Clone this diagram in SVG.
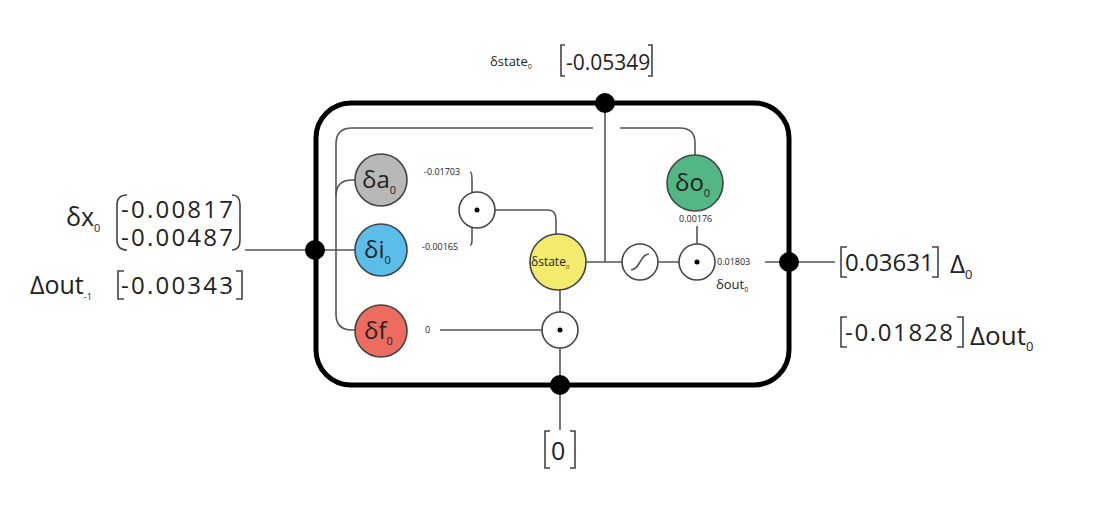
<svg xmlns="http://www.w3.org/2000/svg" width="1104" height="514" viewBox="0 0 1104 514">
<style>
text{font-family:"Open Sans","DejaVu Sans",sans-serif;fill:#222}
.w{fill:none;stroke:#555;stroke-width:1.6}
.b{fill:none;stroke:#444;stroke-width:1.6}
.n{stroke:#444;stroke-width:1.6}
.d{fill:#000}
.m{fill:#fff;stroke:#444;stroke-width:1.6}
.s{font-size:9px}
</style>
<rect width="1104" height="514" fill="#fff"/>
<g id="cell"><rect x="316" y="103" width="473" height="282" rx="35" fill="none" stroke="#000" stroke-width="5"/></g>
<g id="connectors">
<path class="w" d="M593 128 H352 Q336 128 336 144 V314 Q336 330 352 330 H356"/>
<path class="w" d="M620 128 H680 Q695 128 695 143 V155"/>
<path class="w" d="M336 196 Q336 180 352 180 H355"/>
<path class="w" d="M245 250 H355"/>
<path class="w" d="M605 103 V262"/>
<path class="w" d="M470 172 Q472 172 472 180 V192"/>
<path class="w" d="M470 245 Q472 245 472 240 V228"/>
<path class="w" d="M495 210 H548 Q556 210 556 220 V234"/>
<path class="w" d="M586 262 H622 M658 262 H679 M765 262 H789 M789 262 H835"/>
<path class="w" d="M697 226 V244"/>
<path class="w" d="M440 330 H542 M560 290 V312 M560 348 V430"/>
</g>
<g id="dots"><circle class="d" cx="605" cy="103" r="10"/><circle class="d" cx="315" cy="250" r="10"/><circle class="d" cx="789" cy="262" r="10"/><circle class="d" cx="560" cy="385" r="10"/></g>
<g id="na"><circle class="n" cx="381" cy="180" r="26" fill="#b8b8b8"/><text x="362" y="188" font-size="24">δa<tspan font-size="11" dy="6">0</tspan></text></g>
<g id="ni"><circle class="n" cx="381" cy="250" r="26" fill="#5bbdea"/><text x="364" y="258" font-size="24">δi<tspan font-size="11" dy="6">0</tspan></text></g>
<g id="nf"><circle class="n" cx="381" cy="331" r="26" fill="#ee6b60"/><text x="364" y="339" font-size="24">δf<tspan font-size="11" dy="6">0</tspan></text></g>
<g id="no"><circle class="n" cx="695" cy="183" r="28" fill="#52b784"/><text x="675" y="191" font-size="24">δo<tspan font-size="11" dy="6">0</tspan></text></g>
<g id="nstate"><circle class="n" cx="558" cy="262" r="28" fill="#f4ea6e"/><text x="531" y="266" font-size="12">δstate<tspan font-size="6" dy="3">0</tspan></text></g>
<g id="mul1"><circle class="m" cx="477" cy="210" r="18"/><circle class="d" cx="477" cy="210" r="2.5"/></g>
<g id="mul2"><circle class="m" cx="560" cy="330" r="18"/><circle class="d" cx="560" cy="330" r="2.5"/></g>
<g id="mul3"><circle class="m" cx="697" cy="262" r="18"/><circle class="d" cx="697" cy="262" r="2.5"/></g>
<g id="sig"><circle class="m" cx="640" cy="262" r="18"/><path class="w" d="M631 270 C640 270 640 254 649 254"/></g>
<g id="labels">
<text class="s" x="424" y="175">-0.01703</text>
<text class="s" x="422" y="250">-0.00165</text>
<text class="s" x="425" y="333">0</text>
<text class="s" x="679" y="222">0.00176</text>
<text class="s" x="717" y="265">0.01803</text>
<text x="716" y="289" font-size="13">δout<tspan font-size="7" dy="3">0</tspan></text>
<text x="490" y="66" font-size="13">δstate<tspan font-size="7" dy="3">0</tspan></text>
<path class="b" d="M565 45 H561 V76 H565 M648 45 H652 V76 H648"/>
<text x="566" y="70" font-size="21">-0.05349</text>
<text x="66" y="226" font-size="25">δx<tspan font-size="11" dy="6">0</tspan></text>
<path class="b" d="M127 195 Q117 195 117 205 V240 Q117 250 127 250 M232 195 Q240 195 240 205 V240 Q240 250 232 250"/>
<text x="121" y="218" font-size="24" textLength="112">-0.00817</text>
<text x="121" y="246" font-size="24" textLength="112">-0.00487</text>
<text x="30" y="294" font-size="25">Δout<tspan font-size="9" dy="6">-1</tspan></text>
<path class="b" d="M124 271 H118 V299 H124 M236 271 H242 V299 H236"/>
<text x="121" y="294" font-size="24" textLength="112">-0.00343</text>
<path class="b" d="M847 247 H841 V277 H847 M932 247 H938 V277 H932"/>
<text x="845" y="271" font-size="24">0.03631</text>
<text x="950" y="273" font-size="26">Δ<tspan font-size="13" dy="6">0</tspan></text>
<path class="b" d="M847 317 H841 V347 H847 M957 317 H963 V347 H957"/>
<text x="845" y="341" font-size="24" textLength="108">-0.01828</text>
<text x="970" y="345" font-size="26">Δout<tspan font-size="13" dy="6">0</tspan></text>
<path class="b" d="M550 431 H545 V468 H550 M570 431 H575 V468 H570"/>
<text x="551" y="460" font-size="25">0</text>
</g>
</svg>
